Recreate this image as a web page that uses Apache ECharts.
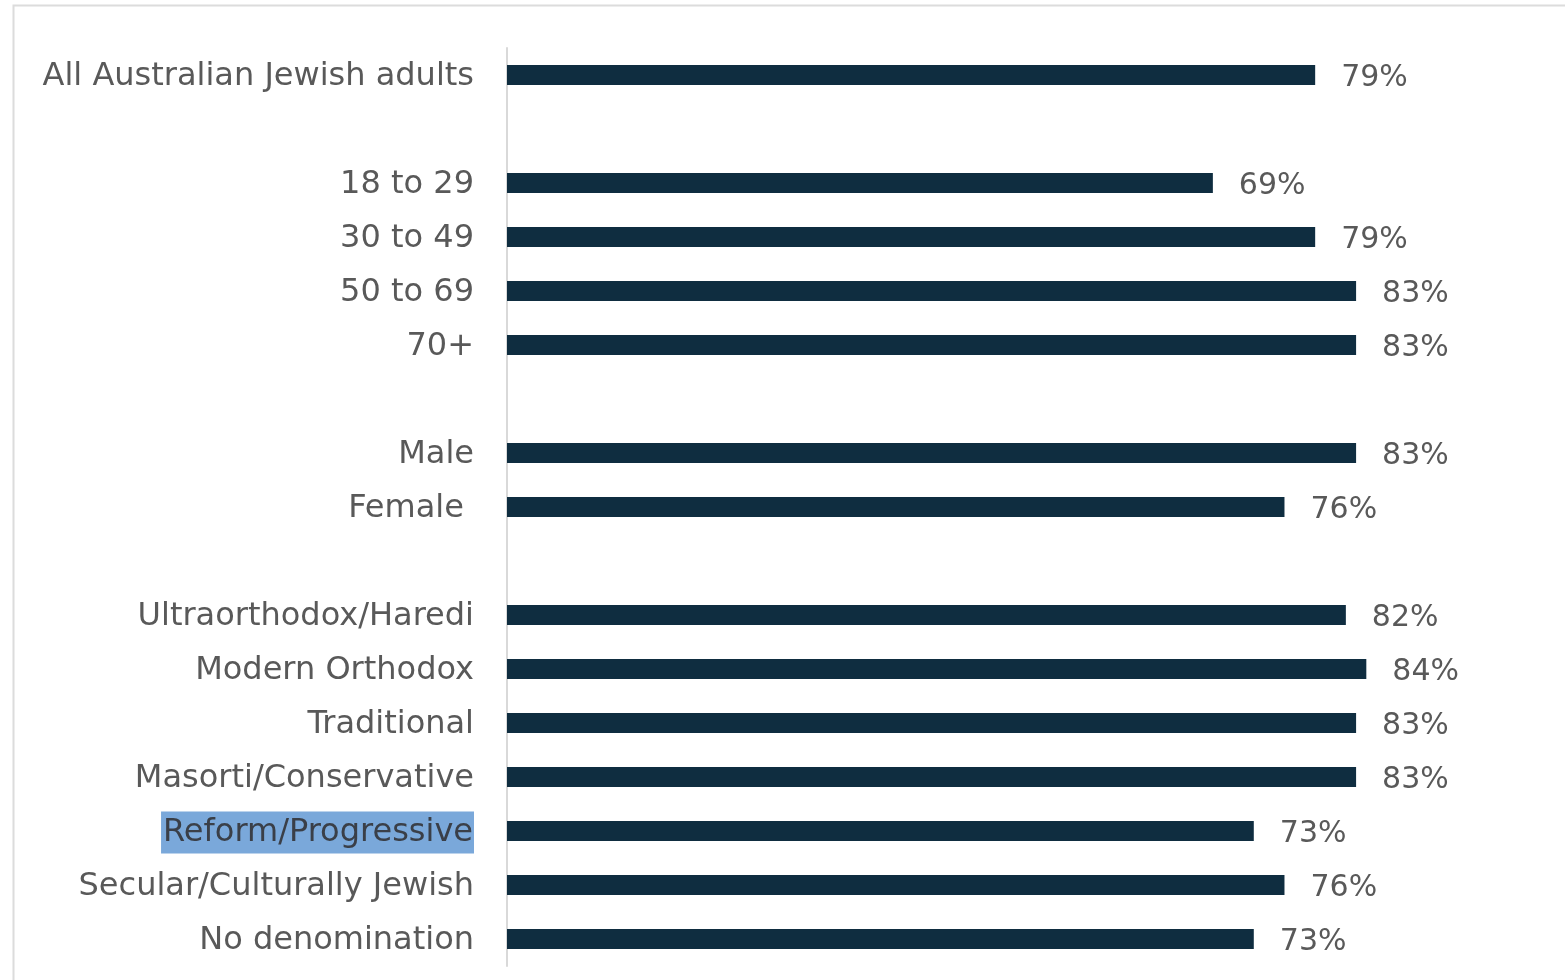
<!DOCTYPE html>
<html>
<head>
<meta charset="utf-8">
<script src="https://cdn.jsdelivr.net/npm/echarts@6/dist/echarts.min.js"></script>
<style>html,body{margin:0;padding:0;background:#fff;}#c{width:1565px;height:980px;}</style>
</head>
<body>
<div id="c"></div>
<script>
const categories = ['All Australian Jewish adults', ' ', '18 to 29', '30 to 49', '50 to 69', '70+', '  ', 'Male', 'Female ', '   ', 'Ultraorthodox/Haredi', 'Modern Orthodox', 'Traditional', 'Masorti/Conservative', 'Reform/Progressive', 'Secular/Culturally Jewish', 'No denomination'];
const values = [79, null, 69, 79, 83, 83, null, 83, 76, null, 82, 84, 83, 83, 73, 76, 73];
const highlighted = 'Reform/Progressive';

const chart = echarts.init(document.getElementById('c'));
chart.setOption({
  backgroundColor: '#ffffff',
  animation: false,
  graphic: [{
    type: 'rect', shape: {x: 13.5, y: 5.5, width: 1600, height: 1000},
    style: {fill: 'none', stroke: '#dcdcdc', lineWidth: 2}, silent: true, z: -1
  }],
  grid: {left: 507, right: 35, top: 48, bottom: 14, containLabel: false},
  xAxis: {type: 'value', min: 0, max: 100, show: false},
  yAxis: {
    type: 'category', data: categories, inverse: true,
    axisLine: {show: true, lineStyle: {color: '#d9d9d9', width: 2}},
    axisTick: {show: false},
    axisLabel: {
      fontFamily: 'DejaVu Sans', fontSize: 32, color: '#595959', margin: 33,
      padding: [3, 0, 0, 0],
      formatter: v => v === highlighted ? '{h|' + v + '}' : v,
      rich: {h: {backgroundColor: '#7aa8da', color: '#3a3f48', fontFamily: 'DejaVu Sans', fontSize: 32, lineHeight: 32, padding: [5, 1, 5, 2]}}
    }
  },
  series: [{
    type: 'bar', data: values, barWidth: 20,
    itemStyle: {color: '#0f2d40'},
    label: {show: true, position: 'right', distance: 26, offset: [0, 3], formatter: p => p.value + '%',
      fontFamily: 'DejaVu Sans', fontSize: 30, color: '#595959'}
  }]
});
</script>
</body>
</html>
